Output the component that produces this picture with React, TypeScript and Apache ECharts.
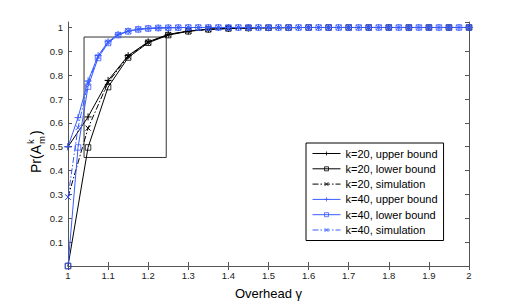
import React, { useEffect, useRef } from "react";
import * as echarts from "echarts";

const xK20 = [1, 1.05, 1.1, 1.15, 1.2, 1.25, 1.3, 1.35, 1.4, 1.45, 1.5, 1.55, 1.6, 1.65, 1.7, 1.75, 1.8, 1.85, 1.9, 1.95, 2];
const k20Upper = [0.5, 0.625, 0.778, 0.882, 0.94, 0.971, 0.985, 0.993, 0.996, 0.998, 0.999, 0.9995, 1, 1, 1, 1, 1, 1, 1, 1, 1];
const k20Lower = [0, 0.497, 0.75, 0.874, 0.936, 0.968, 0.984, 0.992, 0.996, 0.998, 0.999, 0.9995, 1, 1, 1, 1, 1, 1, 1, 1, 1];
const k20Sim = [0.289, 0.578, 0.77, 0.879, 0.938, 0.97, 0.985, 0.992, 0.996, 0.998, 0.999, 0.9995, 1, 1, 1, 1, 1, 1, 1, 1, 1];

const xK40 = [1, 1.025, 1.05, 1.075, 1.1, 1.125, 1.15, 1.175, 1.2, 1.225, 1.25, 1.275, 1.3, 1.325, 1.35, 1.375, 1.4, 1.425, 1.45, 1.475, 1.5, 1.525, 1.55, 1.575, 1.6, 1.625, 1.65, 1.675, 1.7, 1.725, 1.75, 1.775, 1.8, 1.825, 1.85, 1.875, 1.9, 1.925, 1.95, 1.975, 2];
const k40Upper = [0.5, 0.622, 0.776, 0.882, 0.94, 0.971, 0.985, 0.993, 0.996, 0.998, 0.999, 0.9995, 1, 1, 1, 1, 1, 1, 1, 1, 1, 1, 1, 1, 1, 1, 1, 1, 1, 1, 1, 1, 1, 1, 1, 1, 1, 1, 1, 1, 1];
const k40Lower = [0, 0.497, 0.752, 0.872, 0.935, 0.968, 0.984, 0.992, 0.996, 0.998, 0.999, 0.9995, 1, 1, 1, 1, 1, 1, 1, 1, 1, 1, 1, 1, 1, 1, 1, 1, 1, 1, 1, 1, 1, 1, 1, 1, 1, 1, 1, 1, 1];
const k40Sim = [0.289, 0.58, 0.765, 0.878, 0.938, 0.97, 0.985, 0.992, 0.996, 0.998, 0.999, 0.9995, 1, 1, 1, 1, 1, 1, 1, 1, 1, 1, 1, 1, 1, 1, 1, 1, 1, 1, 1, 1, 1, 1, 1, 1, 1, 1, 1, 1, 1];

const zoomBoxX = [1.04, 1.245, 1.245, 1.04, 1.04];
const zoomBoxY = [0.455, 0.455, 0.96, 0.96, 0.455];

const legendNames = [
  "k=20, upper bound",
  "k=20, lower bound",
  "k=20, simulation",
  "k=40, upper bound",
  "k=40, lower bound",
  "k=40, simulation",
];

const FONT = "'Liberation Sans', Arial, Helvetica, sans-serif";
const BLACK = "#000000";
const BLUE = "#3a5cff";
const PLUS = "path://M0,-5L0,5M-5,0L5,0";
const CROSS = "path://M-5,-5L5,5M-5,5L5,-5";
const SQUARE = "path://M-5,-5L5,-5L5,5L-5,5Z";
const DASHDOT = [6, 2, 1.5, 2];

const zip = (xs: number[], ys: number[]) => xs.map((x, i) => [x, ys[i]]);

export default function App() {
  const ref = useRef<HTMLDivElement>(null);
  useEffect(() => {
    if (!ref.current) return;
    const chart = echarts.init(ref.current, undefined, { renderer: "svg" });

    const mk = (name: string, xs: number[], ys: number[], color: string, symbol: string, size: number, dashed: boolean) => ({
      name,
      type: "line",
      data: zip(xs, ys),
      symbol,
      symbolSize: size,
      showSymbol: true,
      itemStyle: {
        color: symbol === SQUARE ? "rgba(255,255,255,0)" : color,
        borderColor: color,
        borderWidth: symbol === SQUARE ? 0.8 : 1,
      },
      lineStyle: { color, width: 1, type: dashed ? DASHDOT : "solid" },
      emphasis: { disabled: true },
      z: 3,
    });

    const axisLine = { show: true, lineStyle: { color: "#555", width: 1 } };
    const tick = { show: true, inside: true, length: 4, lineStyle: { color: "#555" } };
    const fmt = (v: number) => (Math.abs(v) < 1e-9 ? "" : String(Number(v.toFixed(2))));

    chart.setOption({
      animation: false,
      backgroundColor: "#ffffff",
      grid: { left: 68, right: 49, top: 22, bottom: 34, containLabel: false },
      legend: {
        data: legendNames,
        orient: "vertical",
        left: 306,
        top: 143,
        padding: [5, 6, 5, 6],
        itemWidth: 28,
        itemHeight: 5,
        itemGap: 4.3,
        borderColor: "#000",
        borderWidth: 1,
        backgroundColor: "#fff",
        lineStyle: { width: 1 },
        itemStyle: { borderWidth: 0.8 },
        textStyle: { fontFamily: FONT, fontSize: 11, color: "#000" },
        selectedMode: false,
      },
      xAxis: [
        {
          type: "value",
          min: 1,
          max: 2,
          interval: 0.1,
          position: "bottom",
          axisLine,
          axisTick: tick,
          splitLine: { show: false },
          axisLabel: { fontFamily: FONT, fontSize: 9.5, color: "#222", margin: 4, formatter: (v: number) => String(Number(v.toFixed(2))) },
          name: "Overhead γ",
          nameLocation: "middle",
          nameGap: 21,
          nameTextStyle: { fontFamily: FONT, fontSize: 13, color: "#000" },
        },
        {
          type: "value",
          min: 1,
          max: 2,
          interval: 0.1,
          position: "top",
          axisLine,
          axisTick: tick,
          splitLine: { show: false },
          axisLabel: { show: false },
        },
      ],
      yAxis: [
        {
          type: "value",
          min: 0,
          max: 1.023,
          interval: 0.1,
          position: "left",
          axisLine,
          axisTick: tick,
          splitLine: { show: false },
          axisLabel: { fontFamily: FONT, fontSize: 9.5, color: "#222", margin: 5, showMaxLabel: false, formatter: fmt },
        },
        {
          type: "value",
          min: 0,
          max: 1.023,
          interval: 0.1,
          position: "right",
          axisLine,
          axisTick: tick,
          splitLine: { show: false },
          axisLabel: { show: false },
        },
      ],
      graphic: [
        {
          type: "group",
          x: 36,
          y: 149,
          rotation: Math.PI / 2,
          children: [
            { type: "text", x: -24, y: 0, style: { text: "Pr(A", fontFamily: FONT, fontSize: 14, fill: "#000", verticalAlign: "middle", align: "left" } },
            { type: "text", x: 5, y: -6, style: { text: "k", fontFamily: FONT, fontSize: 9.5, fill: "#000", verticalAlign: "middle", align: "left" } },
            { type: "text", x: 5, y: 5, style: { text: "m", fontFamily: FONT, fontSize: 9.5, fill: "#000", verticalAlign: "middle", align: "left" } },
            { type: "text", x: 14, y: 0, style: { text: ")", fontFamily: FONT, fontSize: 14, fill: "#000", verticalAlign: "middle", align: "left" } },
          ],
        },
      ],
      series: [
        {
          name: "zoombox",
          type: "line",
          data: zip(zoomBoxX, zoomBoxY),
          symbol: "none",
          lineStyle: { color: "#333", width: 1 },
          silent: true,
          z: 2,
        },
        mk(legendNames[0], xK20, k20Upper, BLACK, PLUS, 7, false),
        mk(legendNames[1], xK20, k20Lower, BLACK, SQUARE, 5.5, false),
        mk(legendNames[2], xK20, k20Sim, BLACK, CROSS, 5, true),
        mk(legendNames[3], xK40, k40Upper, BLUE, PLUS, 7, false),
        mk(legendNames[4], xK40, k40Lower, BLUE, SQUARE, 5.5, false),
        mk(legendNames[5], xK40, k40Sim, BLUE, CROSS, 5, true),
      ],
    });
    return () => chart.dispose();
  }, []);
  return <div ref={ref} style={{ position: "fixed", left: 0, top: 0, width: 518, height: 305 }} />;
}
